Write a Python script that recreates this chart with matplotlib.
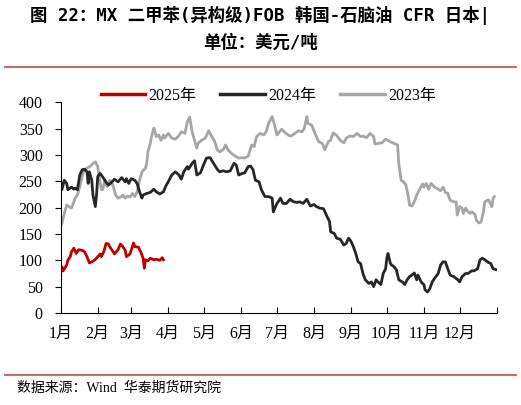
import matplotlib
matplotlib.use('Agg')
import matplotlib.pyplot as plt
from matplotlib.lines import Line2D

plt.rcParams['font.family'] = ['Liberation Serif', 'Noto Sans CJK SC']

# day of year -> value (USD/t)
days_2025 = [0, 1, 2, 5, 6, 8, 9, 11, 13, 15, 18, 20, 22, 24, 27, 30, 33, 34, 36, 38,
             40, 41, 44, 45, 48, 50, 52, 54, 55, 58, 61, 62, 65, 67, 69, 70, 71, 73, 75, 78,
             80, 83, 85, 86]
vals_2025 = [75, 88, 80, 91, 100, 107, 116, 123, 113, 120, 119, 116, 107, 95, 98, 104, 112, 107, 116, 132,
             131, 126, 116, 112, 120, 131, 126, 119, 107, 112, 133, 126, 125, 116, 104, 85, 101, 99, 104, 101,
             102, 100, 105, 101]

days_2024 = [0, 1, 3, 5, 6, 9, 11, 12, 14, 16, 18, 20, 22, 23, 24, 26, 27, 29, 30, 31,
             33, 34, 37, 38, 40, 43, 45, 48, 51, 54, 55, 57, 59, 62, 64, 66, 68, 69, 72, 75,
             78, 80, 83, 86, 88, 90, 93, 96, 99, 101, 103, 106, 107, 110, 112, 114, 117, 119, 122, 125,
             128, 131, 133, 136, 139, 142, 145, 147, 149, 152, 154, 157, 159, 161, 163, 166, 168, 171, 174, 177,
             178, 181, 182, 184, 186, 189, 192, 195, 198, 200, 203, 206, 209, 212, 214, 217, 220, 223, 225, 226,
             229, 231, 234, 237, 239, 241, 243, 245, 247, 249, 251, 253, 255, 258, 260, 262, 264, 266, 268, 270,
             272, 273, 274, 276, 277, 279, 281, 283, 286, 288, 290, 292, 294, 296, 298, 299, 302, 304, 305, 307,
             309, 311, 313, 316, 318, 320, 322, 324, 326, 329, 332, 334, 336, 339, 341, 344, 346, 349, 351, 353,
             355, 358, 360, 362, 365]
vals_2024 = [249, 234, 252, 246, 234, 239, 235, 237, 234, 262, 272, 273, 268, 246, 268, 252, 224, 202, 224, 259,
             265, 262, 252, 248, 243, 249, 254, 249, 257, 249, 255, 246, 255, 252, 246, 230, 218, 224, 227, 229,
             235, 230, 226, 230, 241, 249, 262, 268, 262, 254, 268, 278, 273, 284, 289, 262, 266, 278, 294, 295,
             284, 273, 268, 270, 268, 270, 284, 281, 262, 265, 266, 278, 279, 272, 252, 249, 234, 221, 221, 218,
             192, 208, 211, 218, 208, 208, 216, 211, 210, 211, 208, 216, 203, 206, 202, 199, 198, 183, 174, 154,
             151, 142, 140, 129, 132, 142, 136, 126, 113, 97, 94, 75, 63, 56, 59, 50, 63, 58, 54, 75,
             84, 104, 113, 94, 91, 88, 82, 63, 59, 54, 63, 69, 72, 76, 63, 72, 58, 54, 44, 40,
             46, 59, 66, 75, 91, 97, 97, 84, 72, 69, 64, 59, 69, 75, 75, 80, 80, 84, 101, 104,
             101, 96, 94, 84, 82]

days_2023 = [1, 3, 5, 7, 9, 11, 12, 14, 16, 18, 19, 22, 25, 27, 29, 31, 32, 34, 35, 37,
             38, 39, 41, 43, 44, 46, 48, 51, 52, 54, 56, 58, 60, 62, 64, 66, 68, 71, 72, 73,
             75, 76, 78, 79, 80, 82, 84, 86, 87, 90, 93, 96, 99, 101, 104, 106, 108, 110, 112, 114,
             115, 118, 121, 124, 126, 129, 131, 133, 136, 138, 140, 143, 146, 149, 152, 154, 157, 159, 160, 162,
             164, 167, 170, 172, 174, 177, 179, 181, 182, 185, 188, 191, 193, 196, 199, 202, 204, 206, 207, 210,
             212, 214, 216, 219, 221, 224, 226, 228, 231, 234, 237, 239, 242, 245, 248, 251, 253, 256, 259, 262,
             263, 266, 269, 272, 276, 279, 282, 283, 285, 287, 289, 291, 292, 294, 296, 298, 301, 303, 304, 306,
             308, 310, 313, 316, 318, 320, 322, 324, 326, 329, 331, 332, 334, 336, 337, 339, 341, 343, 344, 346,
             347, 348, 350, 352, 354, 355, 358, 359, 361, 362, 363]
vals_2023 = [170, 189, 205, 202, 199, 211, 218, 224, 240, 259, 268, 275, 279, 284, 287, 278, 262, 234, 234, 252,
             243, 240, 252, 246, 240, 224, 218, 221, 224, 218, 222, 220, 227, 221, 230, 252, 268, 275, 284, 306,
             322, 335, 351, 344, 335, 338, 328, 338, 332, 341, 332, 330, 337, 344, 341, 363, 372, 344, 328, 313,
             322, 328, 332, 346, 337, 325, 310, 306, 310, 319, 310, 303, 298, 294, 295, 294, 298, 313, 319, 316,
             335, 341, 338, 344, 360, 373, 357, 338, 341, 349, 342, 337, 336, 341, 346, 344, 351, 373, 360, 357,
             346, 335, 325, 322, 310, 325, 328, 342, 337, 328, 323, 332, 336, 335, 341, 335, 336, 333, 341, 335,
             321, 322, 323, 330, 325, 322, 319, 284, 252, 249, 243, 221, 205, 203, 211, 224, 237, 245, 239, 246,
             235, 246, 239, 235, 232, 239, 229, 227, 214, 211, 211, 186, 202, 199, 189, 199, 192, 189, 192, 189,
             186, 176, 171, 173, 194, 211, 215, 211, 202, 218, 221]

month_starts = [0, 31, 59, 90, 120, 151, 181, 212, 243, 273, 304, 334, 365]
month_labels = ['1月', '2月', '3月', '4月', '5月', '6月', '7月', '8月', '9月', '10月', '11月', '12月', '']

fig = plt.figure(figsize=(5.21, 4.05), dpi=100)
ax = fig.add_axes([0.1165, 0.2272, 0.8369, 0.5202])

ax.plot(days_2023, vals_2023, color='#a6a6a6', lw=2.0, label='2023年')
ax.plot(days_2024, vals_2024, color='#262626', lw=2.0, label='2024年')
ax.plot(days_2025, vals_2025, color='#c00000', lw=2.0, label='2025年')

ax.set_xlim(0, 365)
ax.set_ylim(0, 400)
ax.set_yticks(range(0, 401, 50))
ax.set_xticks(month_starts)
ax.set_xticklabels(month_labels)
for s in ['top', 'right']:
    ax.spines[s].set_visible(False)
ax.tick_params(axis='y', direction='out', length=4, pad=9, labelsize=11.5)
ax.tick_params(axis='x', direction='in', length=4, pad=9, labelsize=11.5)

handles = [Line2D([], [], color='#c00000', lw=2.5),
           Line2D([], [], color='#262626', lw=2.5),
           Line2D([], [], color='#a6a6a6', lw=2.5)]
fig.legend(handles, ['2025年', '2024年', '2023年'], loc='center', bbox_to_anchor=(0.515, 0.763),
           ncol=3, frameon=False, fontsize=11.5, handlelength=2.8, handletextpad=0.2, columnspacing=1.5)

title_font = ['DejaVu Sans Mono', 'Noto Sans CJK SC']
fig.text(0.5, 1 - 15 / 405, '图 22：MX 二甲苯(异构级)FOB 韩国-石脑油 CFR 日本|', ha='center', va='center',
         fontsize=12.5, fontweight='bold', family=title_font)
fig.text(0.5, 1 - 43 / 405, '单位：美元/吨', ha='center', va='center',
         fontsize=12.5, fontweight='bold', family=title_font)

fig.add_artist(Line2D([5 / 521, 516 / 521], [1 - 67 / 405, 1 - 67 / 405], color='#c96a6a', lw=1.5))
fig.add_artist(Line2D([5 / 521, 516 / 521], [1 - 375 / 405, 1 - 375 / 405], color='#c96a6a', lw=1.5))

fig.text(17 / 521, 1 - 388 / 405, '数据来源：Wind  华泰期货研究院', ha='left', va='center',
         fontsize=10, family=['Liberation Serif', 'Noto Sans CJK SC'])

fig.savefig('out.png', dpi=100)
